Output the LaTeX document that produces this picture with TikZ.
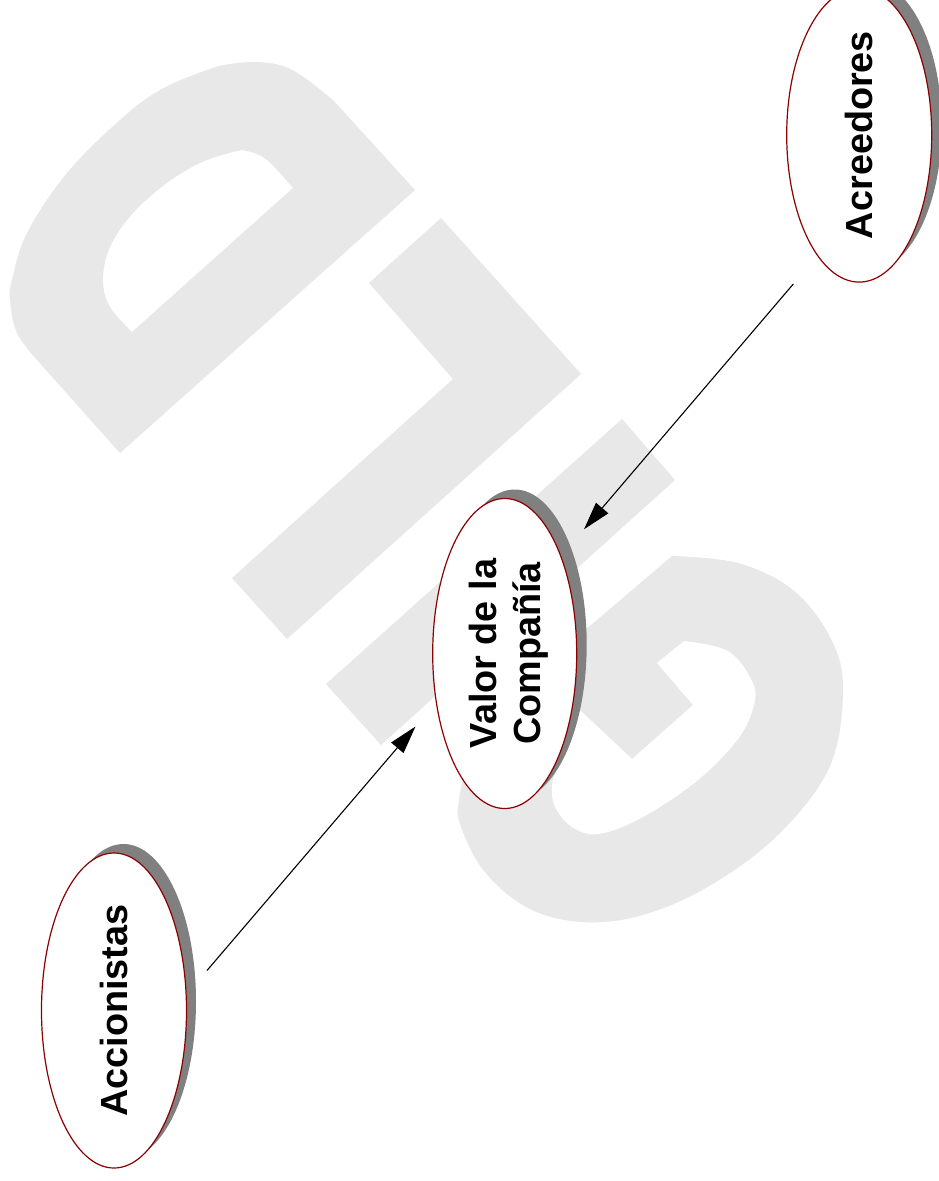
\documentclass[tikz,border=0pt]{standalone}
\usepackage{fontspec}
\setmainfont{Liberation Sans}
\usetikzlibrary{arrows.meta,calc,shapes.geometric}
\definecolor{markgray}{RGB}{232,232,232}
\definecolor{shadegray}{RGB}{128,128,128}
\definecolor{rimred}{RGB}{140,0,0}
\begin{document}
\begin{tikzpicture}[x=1bp,y=-1bp,
  bubble/.style={ellipse, draw=rimred, line width=1.2bp, fill=white, inner sep=0pt,
    rotate=90, text=black, font=\fontsize{37.8bp}{44bp}\selectfont\bfseries},
  bubbleshade/.style={fill=shadegray},
  link/.style={line width=1.1bp, -{Triangle[length=28bp,width=16bp]}},
  wmark/.style={fill=markgray}
]
\useasboundingbox (0,0) rectangle (939,1181);
\fill[white] (0,0) rectangle (939,1181);

% background lettering: D
\fill[wmark, even odd rule]
  (120,453) -- (415,190) -- (333,100)
  -- plot[smooth, tension=0.6] coordinates {(333,100) (305,78) (283,66) (257,62) (230,64) (207,70) (160,90) (120,120) (67,173) (27,233) (12,280) (10,300) (17,333) (37,360)}
  -- cycle
  (132,332) -- (293,188)
  -- plot[smooth, tension=0.6] coordinates {(293,188) (267,160) (247,151) (233,152) (200,163) (167,183) (133,213) (110,247) (103,280) (110,307) (132,332)}
  -- cycle;
% L
\fill[wmark] (441,218) -- (581,374) -- (287,639) -- (232,578) -- (453,379) -- (369,283) -- cycle;
% I
\fill[wmark] (326,684) -- (622,419) -- (675,480) -- (381,745) -- cycle;
% G
\fill[wmark] (672,556)
  -- plot[smooth, tension=0.6] coordinates {(672,556) (738,563) (793,590) (830,637) (843,688) (830,766) (779,834) (711,885) (643,915) (582,922) (528,908) (484,871) (460,824) (459,800) (465,775) (485,735)}
  -- (520,690) -- (550,660) -- cycle;
\fill[white] (684,641)
  -- plot[smooth, tension=0.6] coordinates {(684,641) (728,651) (752,681) (754,705) (738,739) (698,780) (643,817) (599,834) (572,827) (555,807) (552,786) (557,768) (563,752)}
  -- (548,725) -- (565,696) -- (632,759) -- (693,705) -- (657,663) -- cycle;

% centres of the three bubbles
\coordinate (accC) at (114,1010.5);
\coordinate (valC) at (504.7,653.5);
\coordinate (acrC) at (859.2,135);

% shadows
\fill[bubbleshade] ($(accC)+(9.5,-9)$) ellipse [x radius=72.5, y radius=157.5];
\fill[bubbleshade] ($(valC)+(10,-9)$) ellipse [x radius=72, y radius=155];
\fill[bubbleshade] ($(acrC)+(10,-9)$) ellipse [x radius=72.5, y radius=145];

% bubbles
\node[bubble, minimum width=315bp, minimum height=145bp] (acc) at (accC) {Accionistas};
\node[bubble, minimum width=310bp, minimum height=144bp, align=center, text depth=0pt] (val) at (valC) {Valor de la\\Compañía};
\node[bubble, minimum width=290bp, minimum height=145bp] (acr) at (acrC) {Acreedores};

% connectors
\coordinate (accOut) at (207,970.5);
\coordinate (valInL) at (415.5,726.5);
\coordinate (acrOut) at (793.3,284);
\coordinate (valInR) at (584,529.3);
\draw[link] (accOut) -- (valInL);
\draw[link] (acrOut) -- (valInR);
\end{tikzpicture}
\end{document}
